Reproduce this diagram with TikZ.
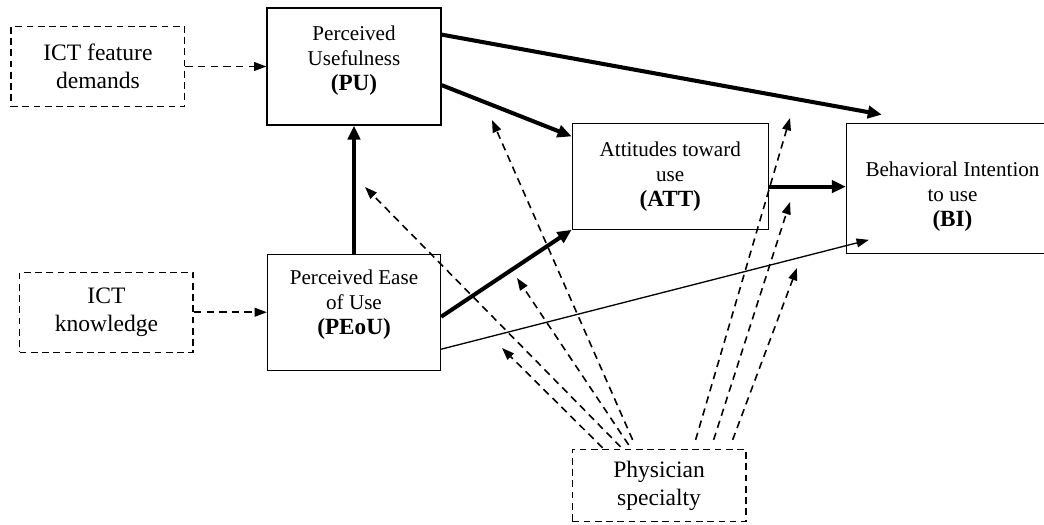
\documentclass[tikz,border=0pt]{standalone}
\usepackage{fontspec}
\setmainfont{Liberation Serif}
\usetikzlibrary{arrows.meta, positioning}
\newcommand{\abbr}[1]{{\fontsize{13.2}{15}\selectfont\textbf{#1}}}

\begin{document}
\begin{tikzpicture}[
    node distance=1.5cm,
    construct/.style={rectangle, draw, line width=0.7pt, align=center, font=\fontsize{12}{14.2}\selectfont, inner sep=2pt},
    external/.style={rectangle, draw, dash pattern=on 3.8pt off 2.6pt, line width=0.8pt, align=center, font=\fontsize{13.4}{16}\selectfont, minimum width=3.47cm, minimum height=1.6cm},
    strong/.style={-{Triangle[length=8pt, width=7pt]}, line width=2.3pt},
    weak/.style={-{Triangle[length=7pt, width=5pt]}, line width=0.75pt},
    moderate/.style={-{Triangle[length=7pt, width=5pt]}, line width=0.9pt, dash pattern=on 4.2pt off 3pt}
]
\useasboundingbox (0,0) rectangle (20.88,-10.48);

% TAM constructs
\node[construct, minimum width=3.48cm, minimum height=2.34cm] (pu) at (7.08,-1.33) {Perceived\\Usefulness\\\abbr{(PU)}\rule[-9.4pt]{0pt}{0pt}};
\node[construct, minimum width=3.46cm, minimum height=2.32cm, below=2.56cm of pu] (peou) {Perceived Ease\\of Use\\\abbr{(PEoU)}\rule[-11pt]{0pt}{0pt}};
\node[construct, minimum width=3.92cm, minimum height=2.12cm, below right=-0.06cm and 2.6cm of pu] (att) {Attitudes toward\\use\\\abbr{(ATT)}};
\node[construct, minimum width=4.24cm, minimum height=2.6cm, right=1.54cm of att.north east, anchor=north west] (bi) {\rule{0pt}{18pt}Behavioral Intention\\to use\\\abbr{(BI)}};

% External variables
\node[external, left=1.62cm of pu] (feature) {ICT feature\\demands};
\node[external, left=1.46cm of peou] (knowledge) {ICT\\knowledge};
\node[external, minimum height=1.44cm, below=4.38cm of att.south west, anchor=north west] (specialty) {Physician\\specialty};

% Free ends
\coordinate (bi_top) at ([xshift=0.72cm, yshift=0.16cm]bi.north west);
\coordinate (bi_low) at ([xshift=0.46cm, yshift=0.28cm]bi.south west);
\coordinate (mod_peou_pu) at (7.30,-3.74);
\coordinate (mod_pu_att) at (9.84,-2.40);
\coordinate (mod_peou_att) at (10.34,-5.56);
\coordinate (mod_peou_bi) at (10.04,-6.96);
\coordinate (mod_pu_bi) at (15.80,-2.36);
\coordinate (mod_att_bi) at (15.80,-4.04);
\coordinate (mod_bi_low) at (15.94,-5.36);

% Arrows
\draw[moderate] (feature.east) -- (feature.east -| pu.west);
\draw[moderate] (knowledge.east) -- (knowledge.east -| peou.west);
\draw[strong] (peou) -- (pu);
\draw[strong] (pu.20) -- (bi_top);
\draw[strong] (pu.-12) -- (att.158);
\draw[strong] (peou.-3) -- (att.south west);
\draw[strong] (att.-6) -- (att.-6 -| bi.west);
\draw[weak] (peou.-23) -- (bi_low);

% Moderating effects of specialty
\draw[moderate] ([xshift=0.98cm, yshift=0.04cm]specialty.north west) -- (mod_peou_pu);
\draw[moderate] ([xshift=1.22cm, yshift=0.18cm]specialty.north west) -- (mod_pu_att);
\draw[moderate] ([xshift=1.14cm, yshift=0.08cm]specialty.north west) -- (mod_peou_att);
\draw[moderate] ([xshift=0.62cm, yshift=0.02cm]specialty.north west) -- (mod_peou_bi);
\draw[moderate] ([xshift=2.48cm, yshift=0.18cm]specialty.north west) -- (mod_pu_bi);
\draw[moderate] ([xshift=2.84cm, yshift=0.18cm]specialty.north west) -- (mod_att_bi);
\draw[moderate] ([xshift=3.22cm, yshift=0.18cm]specialty.north west) -- (mod_bi_low);

\end{tikzpicture}
\end{document}
